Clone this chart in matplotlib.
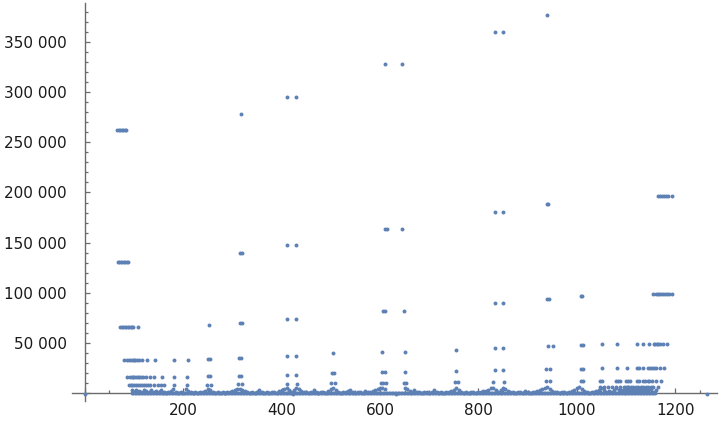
import math

import matplotlib

matplotlib.use("Agg")
import matplotlib.pyplot as plt
from matplotlib.ticker import FuncFormatter, MultipleLocator

# sparse points above the dense band: one value and the x positions where it shows up
level_vals = [
    376832, 360448, 327680, 294912, 278528, 262144,
    196608, 188416, 180224, 163840, 147456, 139264, 131072,
    98304, 96256, 94208, 90112, 81920, 73728, 69632, 67584, 65536,
    49152, 48128, 47104, 45056, 43008, 40960, 39936, 36864, 34816, 33792, 32768,
    24576, 24064, 23552, 22528, 21504, 20480, 19968, 18432, 17408, 16896, 16384,
    12288, 12032, 11776, 11264, 10752, 10240, 9984, 9216, 8704, 8448, 8192,
    6144, 3072,
]
level_xs = [
    [940], [833, 850], [611, 645], [412, 430], [317], [66, 69, 72, 75, 78, 81, 84],
    [1166, 1170, 1174, 1178, 1182, 1186, 1193], [940, 942], [833, 850], [610, 614, 645],
    [412, 430], [316, 319], [67, 70, 73, 76, 79, 82, 85, 88],
    [1155, 1160, 1165, 1168, 1172, 1176, 1180, 1184, 1188, 1193], [1008, 1011], [940, 943],
    [833, 850], [607, 610, 648], [412, 430], [316, 319], [253],
    [72, 75, 78, 81, 84, 87, 90, 93, 96, 99, 108],
    [1051, 1082, 1122, 1135, 1147, 1156, 1159, 1163, 1166, 1169, 1175, 1184],
    [1008, 1013], [941, 951], [833, 850], [755], [605, 650], [505], [412, 430], [313, 318],
    [250, 254],
    [79, 86, 90, 93, 97, 100, 103, 107, 110, 117, 127, 142, 182, 209],
    [1051, 1082, 1103, 1122, 1127, 1135, 1145, 1149, 1152, 1156, 1161, 1169, 1178],
    [1008, 1013], [938, 945], [833, 850], [755], [605, 610, 650], [503, 507], [412, 430],
    [313, 318], [250, 254],
    [85, 92, 95, 98, 101, 104, 108, 111, 115, 118, 125, 133, 140, 157, 181, 208],
    [1048, 1052, 1079, 1084, 1088, 1101, 1105, 1108, 1122, 1127, 1135, 1139, 1144, 1147,
     1152, 1161, 1171],
    [1008, 1013], [938, 945], [830, 852], [752, 758], [603, 607, 612, 648, 652], [500, 508],
    [410, 432], [311, 320], [248, 256],
    [89, 93, 96, 100, 104, 108, 112, 116, 120, 124, 128, 133, 140, 148, 155, 162, 181, 208],
    [1048, 1056, 1064, 1072, 1080, 1088, 1096, 1100, 1105, 1110, 1115, 1120, 1125, 1130,
     1135, 1140, 1145, 1150, 1155, 1165],
    [1090, 1095, 1100, 1105, 1110, 1115, 1120, 1125, 1130, 1135, 1140, 1145],
]

# dense band along the axis, one value every 5 steps from 95 (nan = no point there)
band_start, band_step = 95, 5
band_y = [
    3000, 1000, 3000, 2000, 500, 3000, 1500, 500, 3000, 1000,
    2000, 500, 3000, 1000, 0, 500, 1500, 3500, 500, 0,
    1000, 0, 4000, 2000, 500, 0, 1000, 0, 500, 1000,
    2000, 4000, 3000, 1000, 0, 500, 0, 1000, 0, 500,
    1000, 2000, 3000, 4000, 4000, 3000, 1500, 500, 0, 500,
    0, 1000, 3000, 1000, 0, 500, 0, 1000, 500, 0,
    1500, 2500, 4000, 5000, 3000, 1000, 3000, 5000, 3500, 2000,
    1000, 500, 0, 1000, 2500, 500, 0, 1000, 500, 0,
    1500, 4000, 5000, 2500, 500, 0, 1000, 500, 1500, 2500,
    1000, 0, 500, 1000, 0, 1500, 500, 1000, 2000, 2500,
    3500, 5000, 5000, 4000, math.nan, math.nan, math.nan, math.nan, math.nan, math.nan,
    math.nan, 5000, 4000, 2000, 1000, 3000, 1000, 500, 0, 1000,
    500, 0, 1000, 2500, 1000, 0, 500, 0, 1000, 500,
    1500, 3000, 5000, 2500, 1000, 0, 500, 0, 1000, 500,
    0, 1000, 500, 1500, 2000, 3000, 4500, 5000, 3000, 1000,
    3000, 5000, 3500, 2000, 1000, 500, 0, 1000, 500, 0,
    2000, 500, 0, 1000, 500, 1500, 2500, 3500, 4500, 5500,
    4000, 2000, 1000, 500, 0, 1000, 500, 0, 1000, 2000,
    3000, 4500, 5500, 4000, 2000, 500, 0, 1000, 500, 1500,
    3000, 5000, 3000, 1000, 2000, 1000, 3000, 5000, 2500, 1000,
    3000, 4500, 5500, 3000, 5000, 2000, 4000, 1500, 3500, 5000,
    2000, 4000, 1000, 3000,
]
# the small values that all sit on the axis
floor_start, floor_stop, floor_step = 96, 1160, 3

# stray points just under the axis
stray_x = [1, 424, 632, 1265]
stray_y = [-1200, -1200, -1200, -1200]

POINT_COLOR = "#5e81b5"
AXIS_COLOR = "#6b6b6b"


def main() -> None:
    xs, ys = [], []
    for val, positions in zip(level_vals, level_xs):
        xs.extend(positions)
        ys.extend([val] * len(positions))

    band_x = [band_start + band_step * i for i in range(len(band_y))]
    floor_x = list(range(floor_start, floor_stop, floor_step))
    floor_y = [0] * len(floor_x)

    fig = plt.figure(figsize=(7.2, 4.24), dpi=100)
    ax = fig.add_axes([72 / 720, 1 - 401 / 424, 645 / 720, 398 / 424])

    kw = dict(s=8, color=POINT_COLOR, linewidths=0, zorder=3)
    ax.scatter(floor_x, floor_y, **kw)
    ax.scatter(band_x, band_y, **kw)
    ax.scatter(xs, ys, **kw)
    ax.scatter(stray_x, stray_y, **kw)

    ax.set_xlim(-26, 1285)
    ax.set_ylim(-8000, 389000)

    for side in ("top", "right"):
        ax.spines[side].set_visible(False)
    for side in ("left", "bottom"):
        ax.spines[side].set_position(("data", 0))
        ax.spines[side].set_color(AXIS_COLOR)
        ax.spines[side].set_linewidth(1.0)

    ax.xaxis.set_major_locator(MultipleLocator(200))
    ax.xaxis.set_minor_locator(MultipleLocator(50))
    ax.yaxis.set_major_locator(MultipleLocator(50000))
    ax.yaxis.set_minor_locator(MultipleLocator(10000))

    ax.xaxis.set_major_formatter(FuncFormatter(lambda v, p: "" if v <= 0 else f"{int(v)}"))
    ax.yaxis.set_major_formatter(
        FuncFormatter(lambda v, p: "" if v <= 0 else f"{int(v):,}".replace(",", " "))
    )

    ax.tick_params(which="both", direction="in", color=AXIS_COLOR, width=0.9,
                   labelsize=11, labelcolor="#1a1a1a")
    ax.tick_params(which="major", length=3.4)
    ax.tick_params(which="minor", length=2.0)
    ax.tick_params(axis="y", which="major", pad=13)
    ax.tick_params(axis="x", which="major", pad=7)

    fig.savefig("out.png", dpi=100)
    plt.close(fig)


if __name__ == "__main__":
    main()
